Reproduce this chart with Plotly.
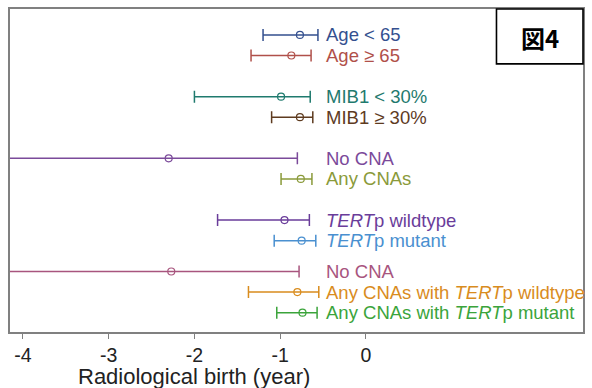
import plotly.graph_objects as go

labels = ["Age < 65", "Age ≥ 65", "MIB1 < 30%", "MIB1 ≥ 30%", "No CNA", "Any CNAs",
          "<i>TERT</i>p wildtype", "<i>TERT</i>p mutant", "No CNA",
          "Any CNAs with <i>TERT</i>p wildtype", "Any CNAs with <i>TERT</i>p mutant"]
estimate = [-0.77, -0.87, -0.99, -0.77, -2.30, -0.76, -0.95, -0.75, -2.27, -0.80, -0.74]
lower = [-1.20, -1.34, -2.00, -1.10, -4.60, -0.99, -1.73, -1.07, -4.60, -1.37, -1.04]
upper = [-0.56, -0.64, -0.65, -0.62, -0.80, -0.63, -0.66, -0.585, -0.78, -0.55, -0.57]
colors = ["#34508F", "#B0504A", "#1F7A6E", "#5E3B1F", "#7B4A9A", "#8A9A3A",
          "#6A3D9A", "#4A90D0", "#A8557E", "#D98C1E", "#3BA43B"]
group_sizes = [2, 2, 2, 2, 3]
group_gaps = [2, 2, 2, 1.5]
xticks = [-4, -3, -2, -1, 0]
x_title = "Radiological birth (year)"

# row positions built from group structure
rows = []
pos = 0.0
for gi, n in enumerate(group_sizes):
    for k in range(n):
        rows.append(pos + k)
    if gi < len(group_gaps):
        pos += (n - 1) + group_gaps[gi]

fig = go.Figure()
for i in range(len(labels)):
    fig.add_trace(go.Scatter(
        x=[estimate[i]], y=[rows[i]], mode="markers",
        marker=dict(symbol="circle-open", size=7, color=colors[i], line=dict(width=1.2)),
        error_x=dict(type="data", symmetric=False,
                     array=[upper[i] - estimate[i]], arrayminus=[estimate[i] - lower[i]],
                     color=colors[i], thickness=1.5, width=6),
        showlegend=False, hoverinfo="skip"))
    fig.add_annotation(x=-0.49, y=rows[i], text=labels[i], showarrow=False,
                       xanchor="left", yanchor="middle",
                       font=dict(family="Liberation Sans, Arial", size=18.5, color=colors[i]))

fig.add_shape(type="rect", xref="paper", yref="paper", x0=0.849, x1=1.0, y0=0.83, y1=1.0,
              line=dict(color="black", width=1.6), fillcolor="white")
fig.add_annotation(xref="paper", yref="paper", x=0.9245, y=0.913, text="<b>図4</b>",
                   xanchor="center", yanchor="middle",
                   showarrow=False, font=dict(family="Noto Sans CJK JP", size=24, color="black"))

fig.add_annotation(xref="paper", yref="paper", x=0.321, y=0, yshift=-44,
                   xanchor="center", yanchor="middle", text=x_title, showarrow=False,
                   font=dict(family="Liberation Sans, Arial", size=22, color="#222"))

fig.update_xaxes(range=[-4.15, 2.53], tickvals=xticks, ticktext=[str(v) for v in xticks],
                 ticks="outside", ticklen=5, tickcolor="#808080", tickwidth=1,
                 showline=True, linecolor="#808080", linewidth=1.5, mirror=True,
                 showgrid=False, zeroline=False,
                 tickfont=dict(family="Liberation Sans, Arial", size=19.5, color="#222"))
fig.update_yaxes(range=[14.44, -1.26], showticklabels=False, ticks="",
                 showline=True, linecolor="#808080", linewidth=1.5, mirror=True,
                 showgrid=False, zeroline=False)
fig.update_layout(width=592, height=388, margin=dict(l=10, r=7, t=7, b=56),
                  plot_bgcolor="white", paper_bgcolor="white")
fig.write_html("out.html", config={"displayModeBar": False},
               post_script="document.body.style.margin='0';")
